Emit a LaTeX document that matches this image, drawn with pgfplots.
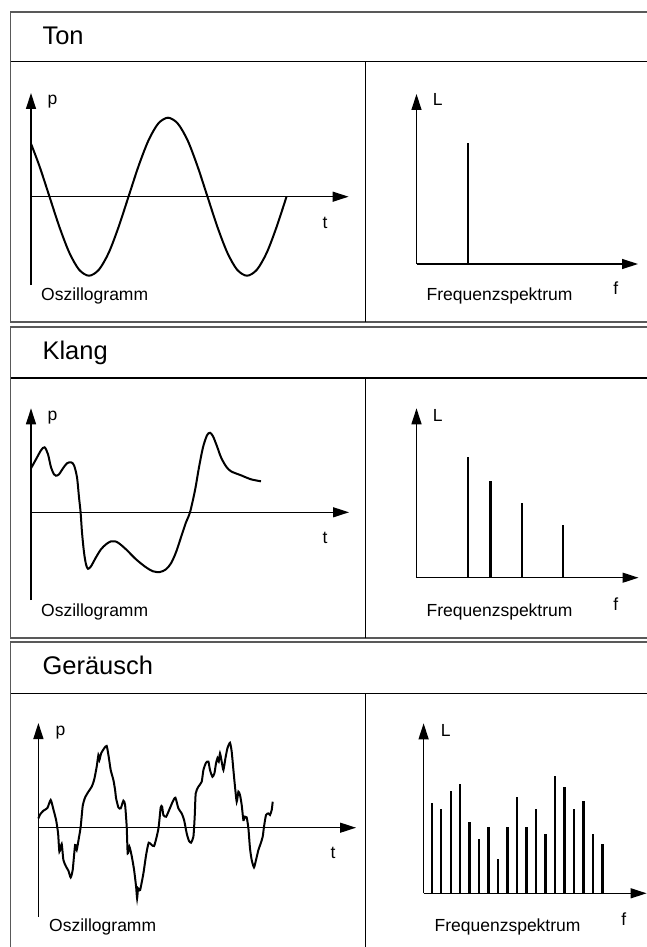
\documentclass[border=0pt]{standalone}
\usepackage{pgfplots}
\pgfplotsset{compat=1.18}
\usepackage{fontspec}
\setmainfont{Liberation Sans}
\usetikzlibrary{arrows.meta}

% one unit = one pixel of the reference
\pgfplotsset{
  sk/.style={x=1pt, y=1pt, anchor=origin, axis lines=middle,
    axis line style={line width=1.3pt, -{Triangle[length=16pt,width=10pt]}},
    xtick=\empty, ytick=\empty, enlargelimits=false, clip=false},
  wave/.style={black, line width=2pt, mark=none, smooth},
  spec/.style={ycomb, black, line width=2.3pt, mark=none},
}
\tikzset{
  frame/.style={draw=black!65, line width=1.7pt},
  hdr/.style={black, line width=1.6pt},
  div/.style={black, line width=1pt},
  big/.style={inner sep=0pt, font=\fontsize{25.5}{28}\selectfont},
  lab/.style={inner sep=0pt, font=\fontsize{17.5}{20}\selectfont},
}

\begin{document}
\begin{tikzpicture}
\clip (0,0) rectangle (647pt,-947pt);

% ---- frames
\begin{scope}[x=1pt, y=-1pt]
\draw[frame] (10.5,12) rectangle (720,322.3);
\draw[hdr] (10.5,61.7) -- (720,61.7);
\draw[div] (365,61.7) -- (365,322.3);

\draw[frame] (10.5,327.3) rectangle (720,638);
\draw[hdr] (10.5,377.7) -- (720,377.7);
\draw[div] (365,377.7) -- (365,638);

\draw[frame] (10.5,642) rectangle (720,1000);
\draw[hdr] (10.5,693.3) -- (720,693.3);
\draw[div] (365,693.3) -- (365,1000);
\end{scope}

% ---- Ton
\begin{axis}[sk, at={(31pt,-196.7pt)}, xmin=0, xmax=317.6, ymin=-88.3, ymax=103.7]
\addplot[wave] coordinates {
  (0,53) (8.6,30.2) (18.5,0) (28.4,-30.2) (38.3,-55.9) (48.1,-73) (58,-79)
  (67.9,-73) (77.8,-55.9) (87.6,-30.2) (97.5,0) (107.4,30.2) (117.3,55.9)
  (127.1,73) (137,79) (146.9,73) (156.8,55.9) (166.6,30.2) (176.5,0)
  (186.4,-30.2) (196.3,-55.9) (206.1,-73) (216,-79) (225.9,-73)
  (235.8,-55.9) (245.6,-30.2) (255.5,0)};
\end{axis}
\begin{axis}[sk, at={(416.5pt,-264pt)}, xmin=0, xmax=221.5, ymin=0, ymax=170]
\addplot[spec] coordinates {(51.7,121.4)};
\end{axis}

% ---- Klang
\begin{axis}[sk, at={(31pt,-512.3pt)}, xmin=0, xmax=318, ymin=-87.7, ymax=104]
\addplot[wave] coordinates {
  (0,44) (5,53) (10,62) (13.6,65) (17,58) (20,45) (23,38) (25,36.6) (28,38)
  (32,44) (36,49) (40,50) (43,47) (46,35) (48,15) (49.6,0) (51,-20) (53,-40)
  (55,-52) (57,-56.5) (60,-54) (65,-45) (70,-37) (75,-32) (80,-29) (84,-29)
  (88,-31) (95,-37) (105,-47) (115,-55) (122,-59) (129,-59.7) (135,-57)
  (140,-51) (145,-40) (150,-25) (155,-10) (159,0) (164,22) (168,45) (172,65)
  (176,77) (179,79.5) (182,76) (186,66) (190,55) (195,46) (200,41) (210,37)
  (220,33) (230,31)};
\end{axis}
\begin{axis}[sk, at={(416.5pt,-577.7pt)}, xmin=0, xmax=222, ymin=0, ymax=169.4]
\addplot[spec] coordinates {(51.7,121) (74,96.3) (105.4,74.7) (146.7,52.3)};
\end{axis}

% ---- Geraeusch
\begin{axis}[sk, at={(38.4pt,-827.7pt)}, xmin=0, xmax=317.6, ymin=-89, ymax=104.7]
\addplot[wave, tension=0.35] coordinates {
  (0,9.3) (1.7,13.3) (5,17) (9,19.7) (12.3,27.7) (15,18.3) (17.7,7.7)
  (19.7,-5.7) (21,-24) (23.3,-16.3) (25,-32.3) (27.7,-39) (30,-43)
  (32.3,-49.7) (34.3,-42.3) (36.7,-17.3) (38.3,-22.3) (40.7,-9) (42.3,1)
  (44.3,21.7) (46.7,30.3) (50,36) (53.3,41) (55.7,47.7) (58.3,61) (60,72.7)
  (61,67.7) (62.7,74.3) (65.7,79.3) (68.3,81.7) (70.3,71) (72.3,57.7)
  (75,47.7) (76.7,37.7) (77.7,29.3) (80,20.3) (82.3,19.3) (85,27)
  (86.7,22.7) (88.3,1) (89.3,-25.7) (91,-19) (93.3,-28.3) (95.7,-42.3)
  (97.7,-59) (98.7,-70.7) (99.7,-60.7) (101.7,-62.3) (105,-45.7)
  (107.7,-27.3) (110.3,-15) (113.3,-17.3) (115.7,-18.3) (118.3,-9)
  (120.3,1) (122.3,20.3) (123.7,21) (125,12.7) (127.7,11) (131,18.3)
  (134.3,26) (137,30) (140,19.3) (143.3,14.3) (145.7,7.7) (148.3,-5.7)
  (150.5,-13) (152.6,-15) (155,-9) (156.3,11) (157.3,34.3) (160,41)
  (163.3,46) (165,57.7) (167.6,65) (170,66) (171.6,57.7) (174,51)
  (176,54.3) (177.6,64.3) (179,69.3) (180.3,66) (181.6,74.3) (183.3,66)
  (185,57.7) (187,69.3) (189,79.3) (191.6,85) (193.3,76) (195,57.7)
  (196.6,41) (198.3,26) (200,36) (201.6,32.7) (203.3,22.7) (205,7.7)
  (206.6,11) (208.3,10.3) (210,-0.7) (211.6,-20.7) (213.3,-32.3)
  (215.6,-39.7) (217.6,-32.3) (220,-22.3) (222.3,-15.7) (224.3,-9)
  (225.6,1) (227.6,12.7) (230,14.3) (231.6,12.7) (233.3,17.7) (234.3,26)};
\end{axis}
\begin{axis}[sk, at={(423.6pt,-893.3pt)}, xmin=0, xmax=223, ymin=0, ymax=170]
\addplot[spec] coordinates {
  (8.3,90) (17.7,84) (27.3,102.3) (36.7,109.3) (46,71.7) (55.7,54)
  (65,66.7) (74.7,34.3) (84,66.7) (93.7,96) (103,66.7) (112.7,84)
  (122,59.7) (131.7,117) (141,106) (150.7,84) (160,92.7) (169.7,59.7)
  (179,49.7)};
\end{axis}

% ---- texts
\begin{scope}[x=1pt, y=-1pt]
\foreach \ttl/\dy/\dx in {Ton/0/0, Klang/315.5/0, Geräusch/630.5/8}{
  \node[big, anchor=base west] at (42.3, 44.3+\dy) {\ttl};
  \node[lab, anchor=base west] at (47.5+\dx, 105+\dy) {p};
  \node[lab, anchor=base] at (325+\dx, 228+\dy) {t};
  \node[lab, anchor=base west] at (41+\dx, 300.5+\dy) {Oszillogramm};
  \node[lab, anchor=base west] at (432.6+\dx, 105.7+\dy) {L};
  \node[lab, anchor=base] at (615.7+\dx, 294.6+\dy) {f};
  \node[lab, anchor=base west] at (426.4+\dx, 300.5+\dy) {Frequenzspektrum};
}
\end{scope}
\end{tikzpicture}
\end{document}
